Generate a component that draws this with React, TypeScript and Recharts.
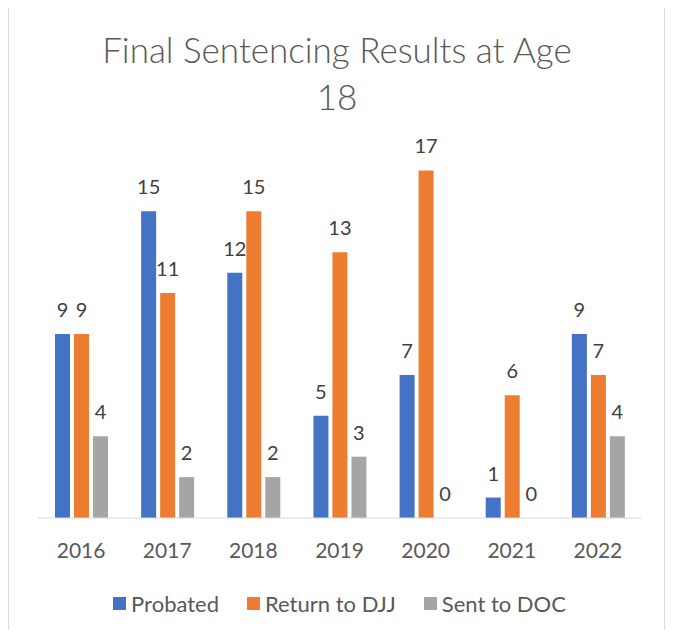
import { BarChart, Bar, XAxis, YAxis, Legend, LabelList } from "recharts";

const years = ["2016", "2017", "2018", "2019", "2020", "2021", "2022"];
const probated = [9, 15, 12, 5, 7, 1, 9];
const returnToDjj = [9, 11, 15, 13, 17, 6, 7];
const sentToDoc = [4, 2, 2, 3, 0, 0, 4];

const series = [
  { key: "probated", name: "Probated", color: "#4472C4" },
  { key: "djj", name: "Return to DJJ", color: "#ED7D31" },
  { key: "doc", name: "Sent to DOC", color: "#A5A5A5" },
];

const data = years.map((year, i) => ({
  year,
  probated: probated[i],
  djj: returnToDjj[i],
  doc: sentToDoc[i],
}));

const font = "Lato, Carlito, 'Open Sans', sans-serif";

function LegendContent() {
  return (
    <div
      style={{
        display: "flex",
        justifyContent: "center",
        alignItems: "center",
        height: 30,
        fontFamily: font,
        fontSize: 22,
        color: "#595959",
      }}
    >
      {series.map((s) => (
        <div key={s.key} style={{ display: "flex", alignItems: "center", margin: "0 14px" }}>
          <span style={{ width: 13, height: 13, background: s.color, marginRight: 5 }} />
          <span>{s.name}</span>
        </div>
      ))}
    </div>
  );
}

export default function App() {
  return (
    <div style={{ position: "relative", width: 674, height: 638, margin: -8, overflow: "hidden", background: "#fff" }}>
      <div
        style={{
          position: "absolute",
          left: 8,
          top: 5,
          width: 655,
          height: 660,
          border: "1px solid #d9d9d9",
        }}
      />
      <div
        style={{
          position: "absolute",
          left: 0,
          top: 26,
          width: 674,
          textAlign: "center",
          fontFamily: font,
          fontWeight: 300,
          fontSize: 35,
          lineHeight: "47px",
          color: "#595959",
        }}
      >
        Final Sentencing Results at Age
        <br />
        18
      </div>
      <div style={{ position: "absolute", left: 0, top: 0 }}>
        <BarChart
          width={674}
          height={638}
          data={data}
          margin={{ top: 150, right: 33, bottom: 50, left: 38 }}
          barGap={4}
          barSize={15}
        >
          <XAxis
            dataKey="year"
            axisLine={{ stroke: "#d9d9d9" }}
            tickLine={false}
            height={40}
            tick={{ fill: "#595959", fontSize: 21, fontFamily: font, dy: 17 }}
          />
          <YAxis hide domain={[0, 18]} />
          <Legend
            verticalAlign="bottom"
            content={<LegendContent />}
            wrapperStyle={{ height: 30, bottom: 20 }}
          />
          {series.map((s) => (
            <Bar
              key={s.key}
              dataKey={s.key}
              name={s.name}
              fill={s.color}
              minPointSize={0.01}
              isAnimationActive={false}
            >
              <LabelList
                dataKey={s.key}
                position="top"
                offset={17}
                style={{ fill: "#404040", fontSize: 20, fontFamily: font }}
              />
            </Bar>
          ))}
        </BarChart>
      </div>
    </div>
  );
}
